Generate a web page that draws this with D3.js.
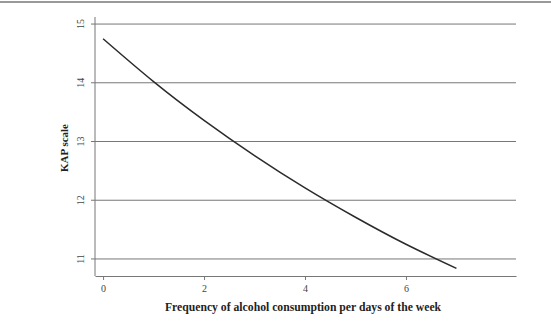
<!DOCTYPE html>
<html lang="en">
<head>
    <meta charset="UTF-8">
    <title>KAP scale vs alcohol frequency</title>
    <script src="https://d3js.org/d3.v7.min.js"></script>
    <style>
        body { margin: 0; background: #fff; }
        text { font-family: "Liberation Serif", "DejaVu Serif", serif; }
    </style>
</head>
<body>
<script>
    // days per week of alcohol consumption vs predicted KAP scale
    const freq = [0, 1, 2, 3, 4, 5, 6, 7];
    const kap = [14.75, 14.02, 13.36, 12.76, 12.21, 11.71, 11.25, 10.84];
    const xTicks = [0, 2, 4, 6];
    const yTicks = [11, 12, 13, 14, 15];

    const W = 551, H = 321;
    let svg = d3.select("body").append("svg")
        .attr("width", W)
        .attr("height", H);

    // thin rule at the very top of the figure
    svg.append("line")
        .attr("x1", 0).attr("x2", W)
        .attr("y1", 2).attr("y2", 2)
        .attr("stroke", "#999")
        .attr("stroke-width", 2);

    let x = d3.scaleLinear().domain([-0.16, 8.18]).range([95, 516]);
    let y = d3.scaleLinear().domain([10.71, 15.12]).range([276, 17]);

    // horizontal grid lines with left ticks
    svg.append("g")
        .selectAll("line")
        .data(yTicks)
        .enter().append("line")
        .attr("x1", 91).attr("x2", 516)
        .attr("y1", d => y(d)).attr("y2", d => y(d))
        .attr("stroke", "#777")
        .attr("stroke-width", 1);

    // y axis line
    svg.append("line")
        .attr("x1", 95).attr("x2", 95)
        .attr("y1", y.range()[1]).attr("y2", y.range()[0])
        .attr("stroke", "#777");

    // y tick labels, rotated
    svg.append("g")
        .selectAll("text")
        .data(yTicks)
        .enter().append("text")
        .attr("transform", d => `translate(84,${y(d)}) rotate(-90)`)
        .attr("text-anchor", "middle")
        .attr("font-size", "10px")
        .attr("fill", "#444")
        .text(d => d);

    // x axis
    let xAxis = svg.append("g")
        .attr("transform", "translate(0,276)")
        .call(d3.axisBottom(x).tickValues(xTicks).tickSize(4).tickPadding(5).tickSizeOuter(0));
    xAxis.select(".domain").attr("stroke", "#777");
    xAxis.selectAll(".tick line").attr("stroke", "#777");
    xAxis.selectAll(".tick text")
        .attr("font-family", "Liberation Serif, serif")
        .attr("font-size", "10px")
        .attr("fill", "#444");

    // fitted curve
    svg.append("path")
        .datum(freq.map((f, i) => [f, kap[i]]))
        .attr("fill", "none")
        .attr("stroke", "#2b2b2b")
        .attr("stroke-width", 1.5)
        .attr("d", d3.line().x(d => x(d[0])).y(d => y(d[1])).curve(d3.curveNatural));

    // axis titles
    svg.append("text")
        .attr("transform", "translate(68,148) rotate(-90)")
        .attr("text-anchor", "middle")
        .attr("font-size", "11px")
        .attr("font-weight", "bold")
        .attr("fill", "#222")
        .text("KAP scale");

    svg.append("text")
        .attr("x", 303).attr("y", 311)
        .attr("text-anchor", "middle")
        .attr("font-size", "11.7px")
        .attr("font-weight", "bold")
        .attr("fill", "#222")
        .text("Frequency of alcohol consumption per days of the week");
</script>
</body>
</html>
